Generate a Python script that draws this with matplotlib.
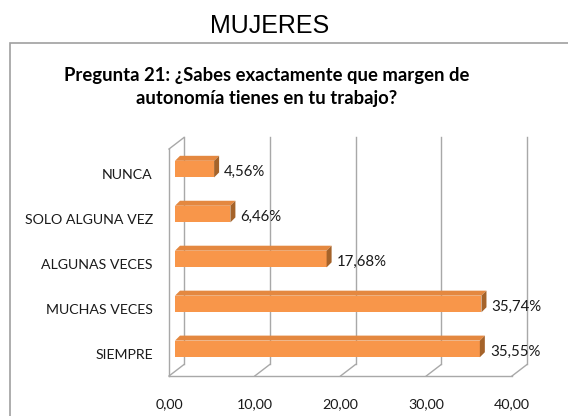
import matplotlib
matplotlib.use("Agg")
import matplotlib.pyplot as plt
from matplotlib.patches import Polygon, Rectangle
from matplotlib.transforms import ScaledTranslation

categories = ["SIEMPRE", "MUCHAS VECES", "ALGUNAS VECES", "SOLO ALGUNA VEZ", "NUNCA"]
values = [35.55, 35.74, 17.68, 6.46, 4.56]
value_labels = ["35,55%", "35,74%", "17,68%", "6,46%", "4,56%"]
xticks = [0, 10, 20, 30, 40]
xtick_labels = ["0,00", "10,00", "20,00", "30,00", "40,00"]
figure_title = "MUJERES"
chart_title = "Pregunta 21: ¿Sabes exactamente que margen de\nautonomía tienes en tu trabajo?"

W, H, DPI = 568, 416, 100
fig = plt.figure(figsize=(W / DPI, H / DPI), dpi=DPI)
fig.patch.set_facecolor("white")

FONT = ["Lato", "DejaVu Sans"]
TXT = "#1a1a1a"
GRID = "#a8a8a8"
FACE = "#f8964a"
TOP = "#e48840"
SIDE = "#a5632a"

# axes (bar plane) in pixel terms
ax_l, ax_r, ax_t, ax_b = 175, 518, 144.4, 371.4
ax = fig.add_axes([ax_l / W, 1 - ax_b / H, (ax_r - ax_l) / W, (ax_b - ax_t) / H])
xmin, xmax = 0, 40
ymin, ymax = -0.5, 4.55
ax.set_xlim(xmin, xmax)
ax.set_ylim(ymin, ymax)
for s in ax.spines.values():
    s.set_visible(False)
ax.patch.set_alpha(0)

pxx = (ax_r - ax_l) / (xmax - xmin)
pxy = (ax_b - ax_t) / (ymax - ymin)

def off(dx_px, dy_px):
    return dx_px / pxx, dy_px / pxy

fx, fy = off(-6, -4.6)   # front plane
bx, by = off(9, 6.9)     # back plane
kw = dict(color=GRID, lw=1.0, clip_on=False, zorder=1)
for t in xticks:
    ax.plot([t + bx, t + bx], [ymin + by, ymax + by], **kw)
    ax.plot([t + fx, t + bx], [ymin + fy, ymin + by], **kw)
ax.plot([xmin + fx, xmax + fx], [ymin + fy, ymin + fy], **kw)
ax.plot([xmin + fx, xmin + fx], [ymin + fy, ymax + fy], **kw)
ax.plot([xmin + fx, xmin + bx], [ymax + fy, ymax + by], **kw)

# 3D bars
h = 0.37
dx, dy = off(5, 5)
ypos = list(range(len(categories)))
ax.barh(ypos, values, height=h, color=FACE, edgecolor="none", zorder=3)
for y, v, lab in zip(ypos, values, value_labels):
    top = Polygon([(0, y + h / 2), (v, y + h / 2), (v + dx, y + h / 2 + dy), (dx, y + h / 2 + dy)],
                  closed=True, facecolor=TOP, edgecolor="none", zorder=3)
    side = Polygon([(v, y - h / 2), (v + dx, y - h / 2 + dy), (v + dx, y + h / 2 + dy), (v, y + h / 2)],
                   closed=True, facecolor=SIDE, edgecolor="none", zorder=3)
    ax.add_patch(top)
    ax.add_patch(side)
    ax.text(v, y, lab, transform=ax.transData + ScaledTranslation(10 / DPI, -3 / DPI, fig.dpi_scale_trans),
            ha="left", va="center", fontsize=10.8, color=TXT, family=FONT, zorder=4)

ax.set_xticks(xticks)
ax.set_xticklabels(xtick_labels, fontsize=10.3, color=TXT, family=FONT)
ax.set_yticks(ypos)
ax.set_yticklabels(categories, fontsize=10.2, color=TXT, family=FONT)
ax.tick_params(axis="both", length=0)
ax.tick_params(axis="x", pad=16)
ax.tick_params(axis="y", pad=16)
for lbl in ax.get_xticklabels():
    lbl.set_transform(lbl.get_transform() + ScaledTranslation(-6 / DPI, -4.6 / DPI, fig.dpi_scale_trans))
for lbl in ax.get_yticklabels():
    lbl.set_transform(lbl.get_transform() + ScaledTranslation(0, -4.6 / DPI, fig.dpi_scale_trans))

# chart frame
fig.patches.append(Rectangle((10 / W, -0.1), 1.2, 1 - 43 / H + 0.1, transform=fig.transFigure,
                             fill=False, edgecolor="#a0a0a0", lw=1.2, clip_on=False))

fig.text(269.5 / W, 1 - 26 / H, figure_title, ha="center", va="center", fontsize=18,
         family=["Liberation Sans", "DejaVu Sans"], color="black")
fig.text(267 / W, 1 - 87 / H, chart_title, ha="center", va="center", fontsize=13.3,
         fontweight="bold", family=FONT, color="black", linespacing=1.45)

fig.savefig("out.png", dpi=DPI)
